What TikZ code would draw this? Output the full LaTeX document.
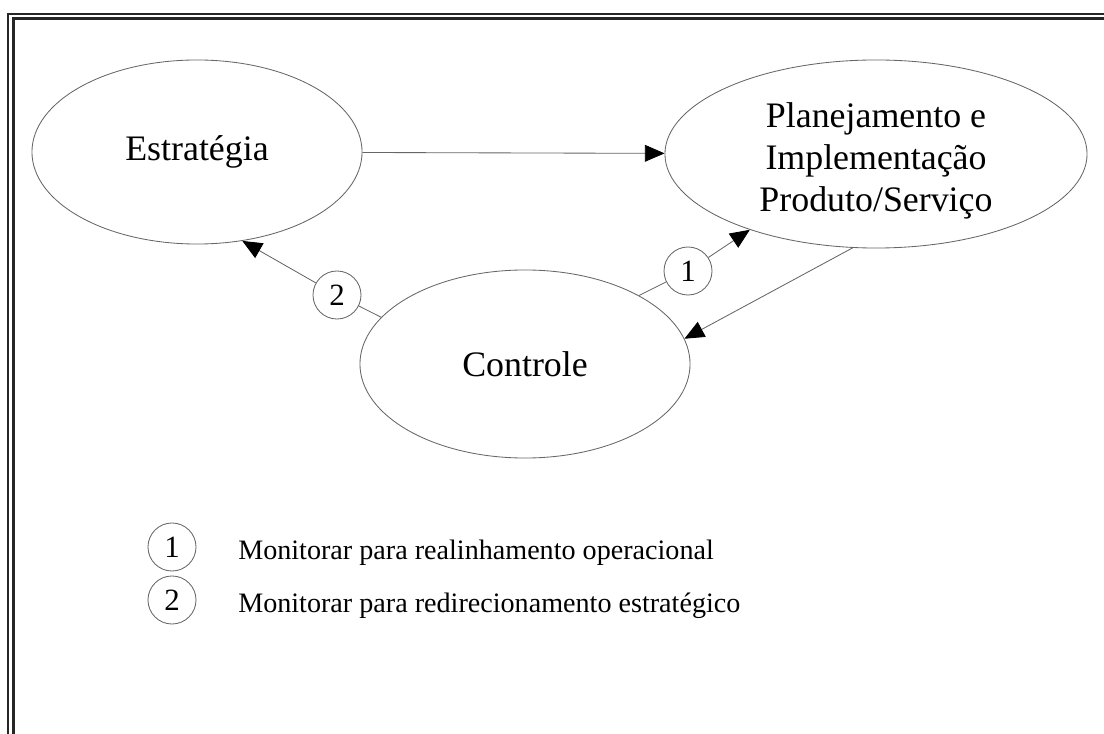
\documentclass[tikz,border=0pt]{standalone}
\usepackage{fontspec}
\setmainfont{Liberation Serif}
\usetikzlibrary{arrows.meta}
\usetikzlibrary{shapes}

\tikzset{
  bloco/.style={ellipse, draw=black!60, line width=0.6pt, align=center, inner sep=0pt,
    font=\fontsize{25.5}{30}\selectfont},
  marca/.style={circle, draw=black!60, line width=0.6pt, minimum size=1.2cm, inner sep=0pt,
    font=\fontsize{22}{26}\selectfont},
  liga/.style={draw=black!60, line width=0.6pt},
  seta/.style={liga, -{Triangle[length=14pt,width=12pt,color=black]}},
  legenda/.style={anchor=base west, inner sep=0pt, font=\fontsize{20}{24}\selectfont},
  moldura/.style={draw=black!85, line width=1.5pt}
}

\begin{document}
\begin{tikzpicture}[x=0.025cm,y=-0.025cm]
	\useasboundingbox (0,0) rectangle (1104,734);
	\clip (0,0) rectangle (1104,734);
	% moldura dupla
	\draw[moldura] (8,14) rectangle (1112,742);
	\draw[moldura] (13.5,18.5) rectangle (1107,738);

	\node[bloco, minimum width=8.25cm, minimum height=4.6cm] (estr) at (197,152) {Estratégia};
	\node[bloco, minimum width=10.55cm, minimum height=4.7cm] (plan) at (876,154) {};
	\node[align=center, inner sep=0pt, font=\fontsize{25.5}{30}\selectfont] (planTxt) at (876,161) {Planejamento e\\Implementação\\Produto/Serviço};
	\node[bloco, minimum width=8.25cm, minimum height=4.7cm] (ctrl) at (525,364) {Controle};

	\node[marca] (n1) at (688,271) {1};
	\node[marca] (n2) at (337,295) {2};

	\draw[seta] (estr) -- (plan);
	\draw[liga] (ctrl.31) -- (n1);
	\draw[seta] (n1) -- (plan.211);
	\draw[seta] (plan.256) -- (ctrl.9);
	\draw[liga] (ctrl.162) -- (n2);
	\draw[seta] (n2) -- (estr.297);

	% legenda
	\node[marca] (l1) at (172,547) {1};
	\node[marca] (l2) at (172,600) {2};
	\node[legenda] (t1) at (238,559) {Monitorar para realinhamento operacional};
	\node[legenda] (t2) at (238,612) {Monitorar para redirecionamento estratégico};
\end{tikzpicture}
\end{document}
